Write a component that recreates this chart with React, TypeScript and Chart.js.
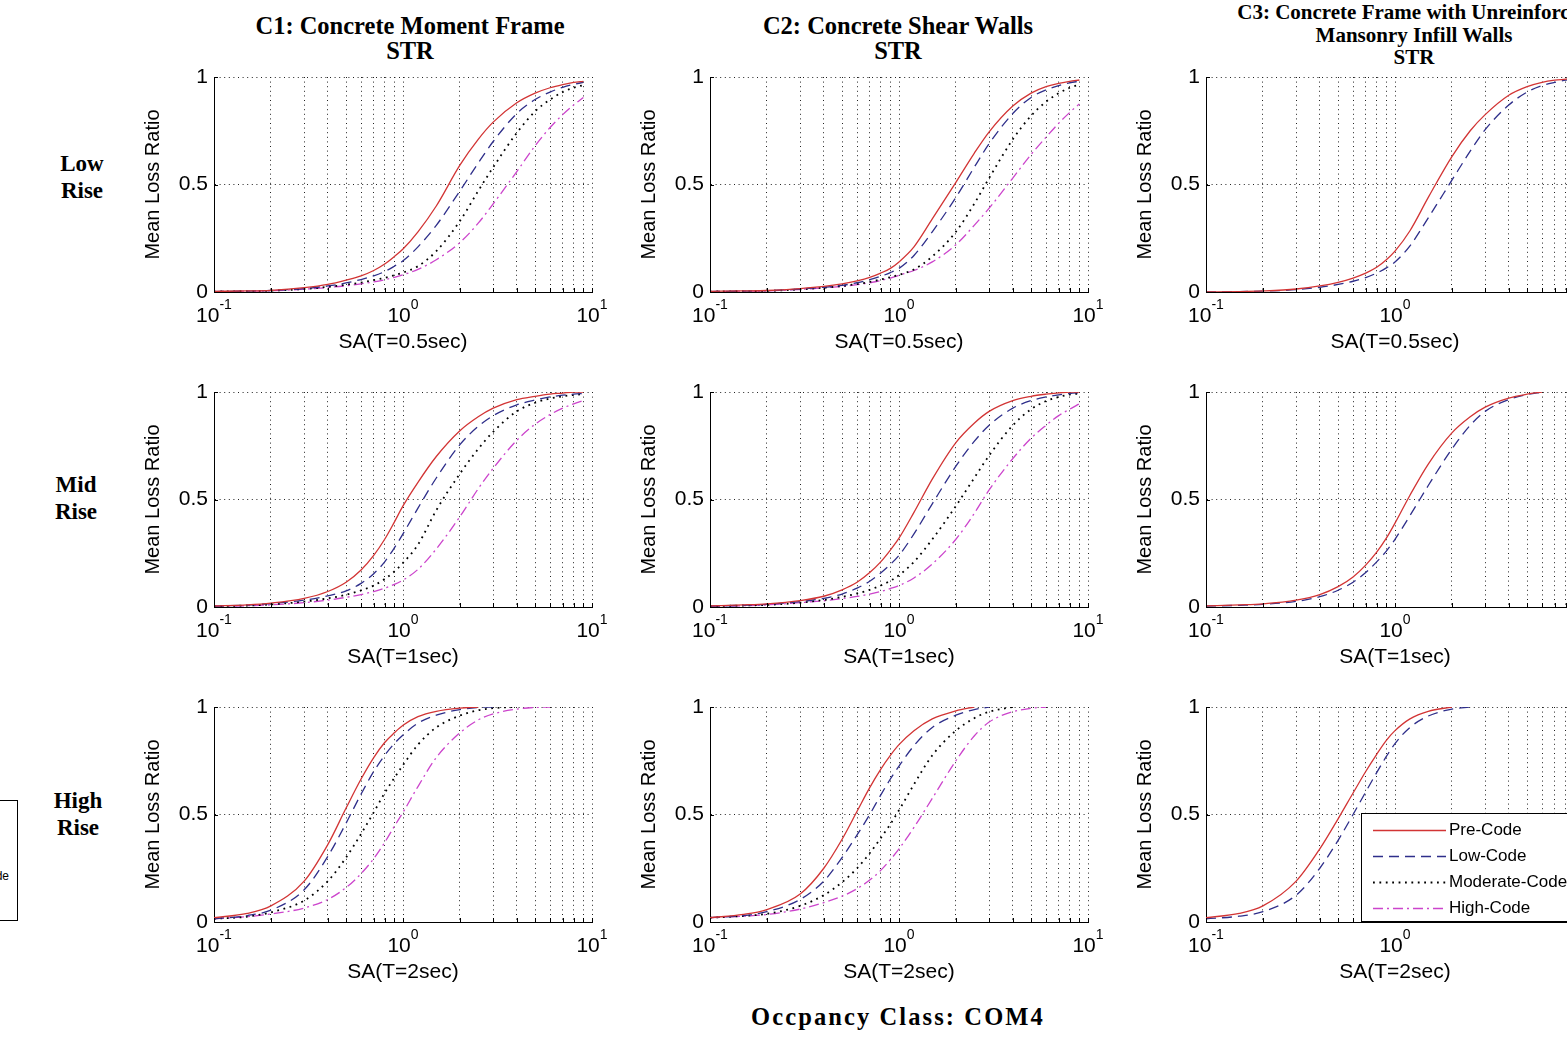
import React, { useEffect, useRef } from "react";
import { Chart, registerables } from "chart.js";

Chart.register(...registerables);

// ---------- data ----------
const SA = [0.1, 0.15, 0.2, 0.3, 0.4, 0.5, 0.6, 0.7, 0.8, 0.9, 1, 1.2, 1.5, 2, 2.5, 3, 4, 5, 6, 7, 8, 9, 10];

const SERIES_NAMES = ["Pre-Code", "Low-Code", "Moderate-Code", "High-Code"];
const COLUMN_TITLES = [
  ["C1: Concrete Moment Frame", "STR"],
  ["C2: Concrete Shear Walls", "STR"],
  ["C3: Concrete Frame with Unreinforced", "Mansonry Infill Walls", "STR"],
];
const ROW_LABELS = [["Low", "Rise"], ["Mid", "Rise"], ["High", "Rise"]];
const X_TITLES = ["SA(T=0.5sec)", "SA(T=1sec)", "SA(T=2sec)"];
const X_GRID = [0.1, 0.2, 0.3, 0.4, 0.5, 0.6, 0.7, 0.8, 0.9, 1, 2, 3, 4, 5, 6, 7, 8, 9, 10];
const X_DECADES = [0.1, 1, 10];
const X_EXPONENTS = ["-1", "0", "1"];
const Y_TICKS = [0, 0.5, 1];
const FOOTER = "Occpancy Class: COM4";

// C1 – Low Rise
const C1_LOW_PRE = [0.003, 0.005, 0.008, 0.02, 0.035, 0.055, 0.075, 0.1, 0.13, 0.165, 0.2, 0.28, 0.4, 0.59, 0.71, 0.79, 0.88, 0.925, 0.95, 0.965, 0.975, 0.98, null];
const C1_LOW_LOW = [0.002, 0.004, 0.007, 0.016, 0.028, 0.042, 0.058, 0.075, 0.095, 0.12, 0.145, 0.21, 0.31, 0.47, 0.6, 0.7, 0.83, 0.895, 0.93, 0.952, 0.966, 0.975, null];
const C1_LOW_MOD = [0.002, 0.004, 0.006, 0.014, 0.024, 0.034, 0.044, 0.055, 0.066, 0.078, 0.09, 0.12, 0.19, 0.33, 0.47, 0.58, 0.74, 0.84, 0.895, 0.93, 0.95, 0.962, null];
const C1_LOW_HIGH = [0.002, 0.004, 0.006, 0.013, 0.021, 0.029, 0.038, 0.047, 0.057, 0.068, 0.08, 0.105, 0.15, 0.23, 0.32, 0.41, 0.56, 0.68, 0.765, 0.825, 0.87, 0.905, null];
// C2 – Low Rise
const C2_LOW_PRE = [0.003, 0.005, 0.007, 0.016, 0.026, 0.038, 0.052, 0.068, 0.088, 0.11, 0.14, 0.21, 0.34, 0.51, 0.645, 0.745, 0.865, 0.925, 0.955, 0.97, 0.98, 0.986, null];
const C2_LOW_LOW = [0.002, 0.004, 0.006, 0.014, 0.022, 0.031, 0.043, 0.057, 0.073, 0.09, 0.11, 0.17, 0.28, 0.44, 0.58, 0.69, 0.83, 0.905, 0.94, 0.96, 0.973, 0.98, null];
const C2_LOW_MOD = [0.002, 0.004, 0.005, 0.012, 0.02, 0.028, 0.037, 0.047, 0.058, 0.069, 0.08, 0.105, 0.165, 0.28, 0.41, 0.53, 0.71, 0.82, 0.885, 0.925, 0.95, 0.965, null];
const C2_LOW_HIGH = [0.002, 0.004, 0.005, 0.012, 0.019, 0.026, 0.034, 0.043, 0.053, 0.065, 0.078, 0.1, 0.14, 0.22, 0.31, 0.39, 0.53, 0.64, 0.72, 0.785, 0.835, 0.875, null];
// C3 – Low Rise
const C3_LOW_PRE = [0.0, 0.002, 0.005, 0.014, 0.028, 0.045, 0.065, 0.088, 0.115, 0.15, 0.19, 0.285, 0.44, 0.63, 0.75, 0.825, 0.915, 0.955, 0.975, 0.985, 0.99, 0.995, 1.0];
const C3_LOW_LOW = [0.0, 0.002, 0.004, 0.011, 0.022, 0.035, 0.05, 0.067, 0.088, 0.112, 0.14, 0.215, 0.345, 0.52, 0.655, 0.755, 0.87, 0.93, 0.96, 0.975, 0.985, 0.99, 0.995];
// C1 – Mid Rise
const C1_MID_PRE = [0.005, 0.01, 0.018, 0.04, 0.072, 0.115, 0.172, 0.24, 0.315, 0.395, 0.47, 0.58, 0.7, 0.82, 0.885, 0.925, 0.965, 0.98, 0.99, 0.995, 1.0, 1.0, null];
const C1_MID_LOW = [0.004, 0.009, 0.016, 0.032, 0.052, 0.075, 0.11, 0.155, 0.21, 0.275, 0.34, 0.46, 0.6, 0.755, 0.84, 0.89, 0.94, 0.963, 0.977, 0.985, 0.99, 0.993, null];
const C1_MID_MOD = [0.004, 0.007, 0.012, 0.025, 0.04, 0.057, 0.077, 0.1, 0.13, 0.165, 0.205, 0.29, 0.45, 0.62, 0.735, 0.815, 0.91, 0.95, 0.97, 0.98, 0.986, 0.99, null];
const C1_MID_HIGH = [0.003, 0.006, 0.01, 0.02, 0.032, 0.045, 0.058, 0.072, 0.088, 0.105, 0.125, 0.175, 0.27, 0.42, 0.55, 0.645, 0.775, 0.85, 0.895, 0.925, 0.945, 0.96, null];
// C2 – Mid Rise
const C2_MID_PRE = [0.005, 0.01, 0.015, 0.03, 0.05, 0.08, 0.115, 0.16, 0.21, 0.265, 0.32, 0.44, 0.595, 0.765, 0.855, 0.91, 0.96, 0.98, 0.99, 0.996, 1.0, 1.0, null];
const C2_MID_LOW = [0.004, 0.008, 0.012, 0.025, 0.04, 0.06, 0.088, 0.12, 0.158, 0.198, 0.24, 0.34, 0.48, 0.655, 0.77, 0.845, 0.925, 0.96, 0.977, 0.987, 0.993, 0.997, null];
const C2_MID_MOD = [0.004, 0.007, 0.01, 0.02, 0.033, 0.047, 0.063, 0.08, 0.1, 0.122, 0.148, 0.21, 0.315, 0.47, 0.6, 0.705, 0.845, 0.92, 0.958, 0.977, 0.988, 0.993, null];
const C2_MID_HIGH = [0.003, 0.006, 0.01, 0.02, 0.029, 0.039, 0.049, 0.06, 0.072, 0.086, 0.1, 0.135, 0.2, 0.315, 0.435, 0.545, 0.69, 0.785, 0.845, 0.89, 0.92, 0.945, null];
// C3 – Mid Rise
const C3_MID_PRE = [0.005, 0.01, 0.015, 0.032, 0.058, 0.095, 0.14, 0.195, 0.255, 0.32, 0.39, 0.52, 0.665, 0.81, 0.885, 0.93, 0.972, 0.99, 1.0, null, null, null, null];
const C3_MID_LOW = [0.004, 0.008, 0.012, 0.026, 0.048, 0.078, 0.115, 0.16, 0.21, 0.26, 0.315, 0.425, 0.565, 0.735, 0.845, 0.91, 0.965, 0.988, 1.0, null, null, null, null];
// C1 – High Rise
const C1_HIGH_PRE = [0.02, 0.04, 0.075, 0.19, 0.36, 0.53, 0.665, 0.765, 0.835, 0.88, 0.915, 0.955, 0.98, 0.995, 1.0, null, null, null, null, null, null, null, null];
const C1_HIGH_LOW = [0.015, 0.03, 0.055, 0.15, 0.305, 0.46, 0.595, 0.7, 0.775, 0.83, 0.87, 0.925, 0.962, 0.988, 0.998, 1.0, null, null, null, null, null, null, null];
const C1_HIGH_MOD = [0.015, 0.025, 0.045, 0.1, 0.19, 0.3, 0.41, 0.51, 0.6, 0.67, 0.73, 0.825, 0.905, 0.96, 0.985, 0.995, 1.0, null, null, null, null, null, null];
const C1_HIGH_HIGH = [0.015, 0.025, 0.037, 0.065, 0.105, 0.16, 0.225, 0.295, 0.37, 0.445, 0.51, 0.63, 0.765, 0.88, 0.94, 0.968, 0.99, 0.998, 1.0, null, null, null, null];
// C2 – High Rise
const C2_HIGH_PRE = [0.02, 0.035, 0.058, 0.13, 0.25, 0.385, 0.515, 0.625, 0.71, 0.775, 0.825, 0.89, 0.945, 0.982, 1.0, null, null, null, null, null, null, null, null];
const C2_HIGH_LOW = [0.02, 0.03, 0.048, 0.105, 0.19, 0.3, 0.405, 0.5, 0.59, 0.665, 0.725, 0.82, 0.905, 0.962, 0.988, 1.0, null, null, null, null, null, null, null];
const C2_HIGH_MOD = [0.02, 0.028, 0.038, 0.075, 0.125, 0.185, 0.25, 0.32, 0.39, 0.455, 0.52, 0.64, 0.775, 0.89, 0.948, 0.978, 1.0, null, null, null, null, null, null];
const C2_HIGH_HIGH = [0.02, 0.027, 0.035, 0.06, 0.09, 0.12, 0.155, 0.195, 0.24, 0.29, 0.34, 0.44, 0.575, 0.75, 0.865, 0.93, 0.978, 0.994, 1.0, null, null, null, null];
// C3 – High Rise
const C3_HIGH_PRE = [0.02, 0.04, 0.075, 0.19, 0.34, 0.48, 0.6, 0.7, 0.78, 0.845, 0.89, 0.945, 0.98, 1.0, null, null, null, null, null, null, null, null, null];
const C3_HIGH_LOW = [0.015, 0.027, 0.048, 0.125, 0.25, 0.38, 0.5, 0.605, 0.695, 0.77, 0.83, 0.905, 0.958, 0.99, 1.0, null, null, null, null, null, null, null, null];

const PANELS = [
  { col: 0, row: 0, series: [C1_LOW_PRE, C1_LOW_LOW, C1_LOW_MOD, C1_LOW_HIGH] },
  { col: 1, row: 0, series: [C2_LOW_PRE, C2_LOW_LOW, C2_LOW_MOD, C2_LOW_HIGH] },
  { col: 2, row: 0, series: [C3_LOW_PRE, C3_LOW_LOW, [], []] },
  { col: 0, row: 1, series: [C1_MID_PRE, C1_MID_LOW, C1_MID_MOD, C1_MID_HIGH] },
  { col: 1, row: 1, series: [C2_MID_PRE, C2_MID_LOW, C2_MID_MOD, C2_MID_HIGH] },
  { col: 2, row: 1, series: [C3_MID_PRE, C3_MID_LOW, [], []] },
  { col: 0, row: 2, series: [C1_HIGH_PRE, C1_HIGH_LOW, C1_HIGH_MOD, C1_HIGH_HIGH] },
  { col: 1, row: 2, series: [C2_HIGH_PRE, C2_HIGH_LOW, C2_HIGH_MOD, C2_HIGH_HIGH] },
  { col: 2, row: 2, series: [C3_HIGH_PRE, C3_HIGH_LOW, [], []], legend: true },
];

// ---------- styles / layout ----------
const COLORS = ["#d23434", "#2e2e8a", "#000000", "#cc44cc"];
const WIDTHS = [1.3, 1.3, 1.8, 1.3];
const DASHES = [[], [10, 6], [1.8, 4.6], [10, 4, 2, 4]];

const PLOT_LEFT = [214, 710, 1206];
const PLOT_TOP = [77, 392, 707];
const PLOT_W = 378;
const PLOT_H = 215;
const PAD_L = 95;
const PAD_T = 15;
const PAD_R = 30;
const PAD_B = 75;
const CW = PAD_L + PLOT_W + PAD_R;
const CH = PAD_T + PLOT_H + PAD_B;

const SANS = '"Liberation Sans", Arial, sans-serif';
const SERIF = '"Liberation Serif", "Times New Roman", serif';

function PanelChart({ col, row, series, legend }: { col: number; row: number; series: (number | null)[][]; legend?: boolean }) {
  const ref = useRef<HTMLCanvasElement | null>(null);

  useEffect(() => {
    const canvas = ref.current;
    if (!canvas) return;
    const xTitle = X_TITLES[row];

    const decor = {
      id: "decor",
      afterDraw(chart: any) {
        const { ctx, chartArea: ca, scales } = chart;
        const x = scales.x;
        const y = scales.y;
        ctx.save();
        ctx.strokeStyle = "#000";
        ctx.lineWidth = 1;
        ctx.setLineDash([]);
        // inward tick marks
        X_GRID.forEach((v) => {
          const px = Math.round(x.getPixelForValue(v)) + 0.5;
          ctx.beginPath();
          ctx.moveTo(px, ca.bottom);
          ctx.lineTo(px, ca.bottom - 4);
          ctx.stroke();
        });
        Y_TICKS.forEach((v) => {
          const py = Math.round(y.getPixelForValue(v)) + 0.5;
          ctx.beginPath();
          ctx.moveTo(ca.left, py);
          ctx.lineTo(ca.left + 4, py);
          ctx.stroke();
        });
        ctx.fillStyle = "#000";
        // y tick labels
        ctx.font = `21px ${SANS}`;
        ctx.textAlign = "right";
        ctx.textBaseline = "middle";
        Y_TICKS.forEach((v) => ctx.fillText(String(v), ca.left - 6, y.getPixelForValue(v)));
        // x decade labels, whole "10^e" centred on the tick
        X_DECADES.forEach((v, i) => {
          const px = x.getPixelForValue(v);
          ctx.font = `21px ${SANS}`;
          const wb = ctx.measureText("10").width;
          ctx.font = `14px ${SANS}`;
          const we = ctx.measureText(X_EXPONENTS[i]).width;
          const start = px - (wb + we) / 2;
          ctx.textAlign = "left";
          ctx.font = `21px ${SANS}`;
          ctx.fillText("10", start, ca.bottom + 24);
          ctx.font = `14px ${SANS}`;
          ctx.fillText(X_EXPONENTS[i], start + wb, ca.bottom + 13);
        });
        // x title
        ctx.font = `21px ${SANS}`;
        ctx.textAlign = "center";
        ctx.fillText(xTitle, (ca.left + ca.right) / 2, ca.bottom + 50);
        // y title
        ctx.save();
        ctx.translate(ca.left - 61, (ca.top + ca.bottom) / 2);
        ctx.rotate(-Math.PI / 2);
        ctx.font = `20px ${SANS}`;
        ctx.fillText("Mean Loss Ratio", 0, 0);
        ctx.restore();
        // legend
        if (legend) {
          const bx = ca.left + 155;
          const by = ca.top + 106;
          const bw = 230;
          const bh = ca.bottom - 1 - by;
          ctx.fillStyle = "#fff";
          ctx.fillRect(bx, by, bw, bh);
          ctx.strokeStyle = "#000";
          ctx.lineWidth = 1;
          ctx.strokeRect(bx + 0.5, by + 0.5, bw, bh);
          chart.data.datasets.forEach((ds: any, i: number) => {
            const ly = by + 17 + i * 26;
            ctx.save();
            ctx.strokeStyle = ds.borderColor;
            ctx.lineWidth = ds.borderWidth;
            ctx.setLineDash(ds.borderDash);
            ctx.beginPath();
            ctx.moveTo(bx + 12, ly + 0.5);
            ctx.lineTo(bx + 85, ly + 0.5);
            ctx.stroke();
            ctx.restore();
            ctx.fillStyle = "#000";
            ctx.font = `17px ${SANS}`;
            ctx.textAlign = "left";
            ctx.textBaseline = "middle";
            ctx.fillText(ds.label, bx + 88, ly);
          });
        }
        ctx.restore();
      },
    };

    const datasets = SERIES_NAMES.map((name, i) => ({
      label: name,
      data: SA.map((sx, k) => ({ x: sx, y: series[i] ? series[i][k] : null })).filter(
        (p) => p.y !== null && p.y !== undefined
      ),
      borderColor: COLORS[i],
      backgroundColor: COLORS[i],
      borderWidth: WIDTHS[i],
      borderDash: DASHES[i],
      pointRadius: 0,
      fill: false,
      cubicInterpolationMode: "monotone" as const,
    }));

    const chart = new Chart(canvas, {
      type: "line",
      data: { datasets },
      options: {
        animation: false,
        responsive: false,
        maintainAspectRatio: false,
        events: [],
        layout: { padding: { left: PAD_L, top: PAD_T, right: PAD_R, bottom: PAD_B } },
        plugins: { legend: { display: false }, tooltip: { enabled: false }, title: { display: false } },
        scales: {
          x: {
            type: "logarithmic",
            min: 0.1,
            max: 10,
            afterBuildTicks: (s: any) => {
              s.ticks = X_GRID.map((v) => ({ value: v }));
            },
            afterFit: (s: any) => {
              s.height = 0;
            },
            ticks: { display: false },
            grid: { color: "#222", lineWidth: 1, drawTicks: false },
            border: { display: true, color: "#000", width: 1, dash: [1, 3.6] },
          },
          y: {
            type: "linear",
            min: 0,
            max: 1,
            afterBuildTicks: (s: any) => {
              s.ticks = Y_TICKS.map((v) => ({ value: v }));
            },
            afterFit: (s: any) => {
              s.width = 0;
            },
            ticks: { display: false },
            grid: { color: "#222", lineWidth: 1, drawTicks: false },
            border: { display: true, color: "#000", width: 1, dash: [1, 3.6] },
          },
        },
      } as any,
      plugins: [decor],
    });
    return () => chart.destroy();
  }, [col, row, series, legend]);

  return (
    <canvas
      ref={ref}
      width={CW}
      height={CH}
      style={{
        position: "absolute",
        left: PLOT_LEFT[col] - PAD_L,
        top: PLOT_TOP[row] - PAD_T,
        width: CW,
        height: CH,
      }}
    />
  );
}

const TITLE_LAYOUT = [
  { cx: 410, top: 13, size: 24.5, lh: 25 },
  { cx: 898, top: 13, size: 24.5, lh: 25 },
  { cx: 1414, top: 1, size: 21, lh: 22.5 },
];
const ROW_LAYOUT = [
  { cx: 82, top: 149.5 },
  { cx: 76, top: 470.5 },
  { cx: 78, top: 786.5 },
];

export default function App() {
  return (
    <div
      style={{
        position: "absolute",
        left: 0,
        top: 0,
        width: 1567,
        height: 1040,
        overflow: "hidden",
        background: "#fff",
      }}
    >
      <style>{"html,body{margin:0;overflow:hidden;background:#fff}"}</style>
      {COLUMN_TITLES.map((lines, c) => (
        <div
          key={"t" + c}
          style={{
            position: "absolute",
            left: TITLE_LAYOUT[c].cx - 300,
            top: TITLE_LAYOUT[c].top,
            width: 600,
            textAlign: "center",
            fontFamily: SERIF,
            fontWeight: "bold",
            fontSize: TITLE_LAYOUT[c].size,
            lineHeight: `${TITLE_LAYOUT[c].lh}px`,
            color: "#000",
            whiteSpace: "nowrap",
          }}
        >
          {lines.map((l, i) => (
            <div key={i}>{l}</div>
          ))}
        </div>
      ))}
      {ROW_LABELS.map((lines, r) => (
        <div
          key={"r" + r}
          style={{
            position: "absolute",
            left: ROW_LAYOUT[r].cx - 60,
            top: ROW_LAYOUT[r].top,
            width: 120,
            textAlign: "center",
            fontFamily: SERIF,
            fontWeight: "bold",
            fontSize: 23,
            lineHeight: "27px",
            color: "#000",
          }}
        >
          {lines.map((l, i) => (
            <div key={i}>{l}</div>
          ))}
        </div>
      ))}
      {PANELS.map((p, i) => (
        <PanelChart key={i} col={p.col} row={p.row} series={p.series} legend={p.legend} />
      ))}
      <div
        style={{
          position: "absolute",
          left: 898 - 300,
          top: 1002,
          width: 600,
          textAlign: "center",
          fontFamily: SERIF,
          fontWeight: "bold",
          fontSize: 24.5,
          lineHeight: "30px",
          letterSpacing: "2.1px",
          color: "#000",
        }}
      >
        {FOOTER}
      </div>
      <div
        style={{
          position: "absolute",
          left: -150,
          top: 800,
          width: 166,
          height: 119,
          border: "1px solid #000",
          background: "#fff",
          overflow: "hidden",
        }}
      >
        <span
          style={{
            position: "absolute",
            right: 8,
            top: 68,
            fontFamily: SANS,
            fontSize: 12,
            lineHeight: "14px",
            whiteSpace: "nowrap",
          }}
        >
          High-Code
        </span>
      </div>
    </div>
  );
}
